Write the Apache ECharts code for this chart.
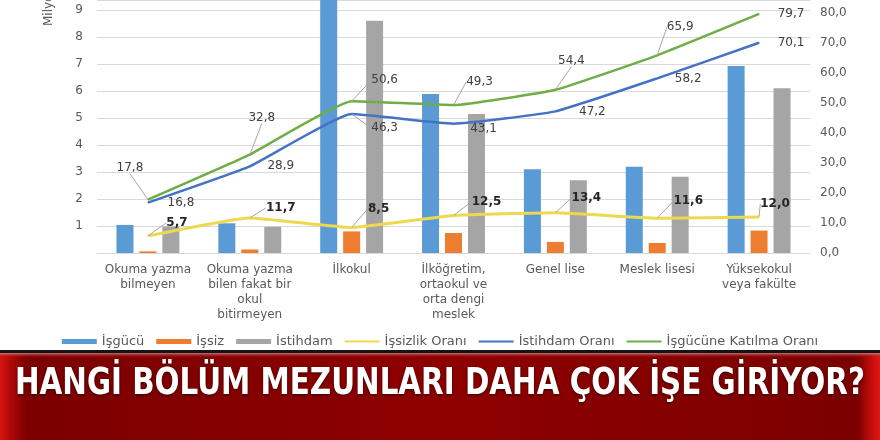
<!DOCTYPE html>
<html>
<head>
<meta charset="utf-8">
<title>Eğitim durumuna göre işgücü</title>
<script src="https://cdn.jsdelivr.net/npm/echarts@6/dist/echarts.min.js"></script>
<style>
  * { margin: 0; padding: 0; }
  html, body { width: 880px; height: 440px; background: #fff; overflow: hidden; }
  #chart { width: 880px; height: 440px; }
</style>
</head>
<body>
<div id="chart"></div>
<script>
// kategoriler (eğitim durumu)
var categories = [
  'Okuma yazma\nbilmeyen',
  'Okuma yazma\nbilen fakat bir\nokul\nbitirmeyen',
  'İlkokul',
  'İlköğretim,\nortaokul ve\norta dengi\nmeslek',
  'Genel lise',
  'Meslek lisesi',
  'Yüksekokul\nveya fakülte'
];
// milyon kişi (sol eksen)
var isgucu   = [1.04, 1.10, 9.40, 5.89, 3.10, 3.19, 6.93];
var issiz    = [0.06, 0.13, 0.80, 0.74, 0.41, 0.37, 0.83];
var istihdam = [0.98, 0.97, 8.60, 5.15, 2.69, 2.82, 6.10];
// oranlar % (sağ eksen)
var issizlikOrani = [5.7, 11.7, 8.5, 12.5, 13.4, 11.6, 12.0];
var istihdamOrani = [16.8, 28.9, 46.3, 43.1, 47.2, 58.2, 70.1];
var katilmaOrani  = [17.8, 32.8, 50.6, 49.3, 54.4, 65.9, 79.7];

var leftTicks = [1, 2, 3, 4, 5, 6, 7, 8, 9];
var rightTicks = [0, 10, 20, 30, 40, 50, 60, 70, 80];
var titleText = 'HANGİ BÖLÜM MEZUNLARI DAHA ÇOK İŞE GİRİYOR?';

// etiketlerin noktaya göre kaydırması [dx, dy]
var offKatilma  = [[-18,-32],[12,-37],[33,-21],[26,-23],[16,-29],[23,-28],[32,0]];
var offIstihdam = [[33,0],[31,0],[33,14],[30,5],[37,0],[31,0],[32,0]];
var offIssizlik = [[29,-13],[31,-10],[27,-19],[33,-14],[31,-15],[31,-17],[16,-13]];

function tr(v) { return Number(v).toFixed(1).replace('.', ','); }

function lineData(vals, offs) {
  return vals.map(function (v, i) {
    return { value: v, labelLine: { show: Math.abs(offs[i][1]) > 8 } };
  });
}

var txt = '#595959';
var font = 'DejaVu Sans';
// ince çizgi simgesi (lejant)
var lineIcon = 'path://M0,0L0.01,0M0,1.6H35V3.4H0ZM0,5L0.01,5';

// başlık genişliğini ölç
var ctx = document.createElement('canvas').getContext('2d');
ctx.font = 'bold 37px "DejaVu Sans Condensed"';
var titleScale = 850 / ctx.measureText(titleText).width;

var chart = echarts.init(document.getElementById('chart'));

function lineSeries(name, vals, offs, color, width, bold) {
  return {
    name: name,
    type: 'line',
    yAxisIndex: 1,
    data: lineData(vals, offs),
    smooth: 0.12,
    symbol: 'circle',
    symbolSize: 1,
    showSymbol: true,
    lineStyle: { color: color, width: width },
    itemStyle: { color: color },
    label: {
      show: true,
      position: 'inside',
      formatter: function (p) { return tr(p.value); },
      fontFamily: font,
      fontSize: 12,
      fontWeight: bold ? 'bold' : 'normal',
      color: bold ? '#262626' : '#404040'
    },
    labelLine: { show: true, lineStyle: { color: '#a6a6a6', width: 1 } },
    labelLayout: function (p) {
      return { dx: offs[p.dataIndex][0], dy: offs[p.dataIndex][1] };
    },
    z: 3
  };
}

chart.setOption({
  animation: false,
  backgroundColor: '#fff',
  grid: { left: 97, right: 70, top: 0, bottom: 187 },
  legend: {
    bottom: 87,
    left: 'center',
    itemWidth: 35,
    itemHeight: 5,
    itemGap: 12,
    textStyle: { color: txt, fontFamily: font, fontSize: 13 },
    data: [
      { name: 'İşgücü', icon: 'rect' },
      { name: 'İşsiz', icon: 'rect' },
      { name: 'İstihdam', icon: 'rect' },
      { name: 'İşsizlik Oranı', icon: lineIcon },
      { name: 'İstihdam Oranı', icon: lineIcon },
      { name: 'İşgücüne Katılma Oranı', icon: lineIcon }
    ]
  },
  xAxis: {
    type: 'category',
    data: categories,
    axisTick: { show: false },
    axisLine: { lineStyle: { color: '#d9d9d9' } },
    axisLabel: {
      interval: 0, margin: 9, color: txt, fontFamily: font, fontSize: 12, lineHeight: 15
    }
  },
  yAxis: [{
    type: 'value', min: 0, max: 253 / 27, interval: 1,
    axisLine: { show: false }, axisTick: { show: false },
    splitLine: { lineStyle: { color: '#d9d9d9' } },
    axisLabel: {
      margin: 14, color: txt, fontFamily: font, fontSize: 12,
      formatter: function (v) { return leftTicks.indexOf(v) >= 0 ? String(v) : ''; }
    }
  }, {
    type: 'value', min: 0, max: 253 / 3, interval: 10,
    axisLine: { show: false }, axisTick: { show: false },
    splitLine: { show: false },
    axisLabel: {
      margin: 10, color: txt, fontFamily: font, fontSize: 12,
      formatter: function (v) { return rightTicks.indexOf(v) >= 0 ? tr(v) : ''; }
    }
  }],
  series: [
    { name: 'İşgücü', type: 'bar', data: isgucu, barWidth: 17, barGap: '35%',
      itemStyle: { color: '#5b9bd5' } },
    { name: 'İşsiz', type: 'bar', data: issiz, barWidth: 17, barGap: '35%',
      itemStyle: { color: '#ed7d31' } },
    { name: 'İstihdam', type: 'bar', data: istihdam, barWidth: 17, barGap: '35%',
      itemStyle: { color: '#a5a5a5' } },
    lineSeries('İşsizlik Oranı', issizlikOrani, offIssizlik, '#ecd94e', 3, true),
    lineSeries('İstihdam Oranı', istihdamOrani, offIstihdam, '#4472c4', 2.5, false),
    lineSeries('İşgücüne Katılma Oranı', katilmaOrani, offKatilma, '#70ad47', 2.5, false)
  ],
  graphic: [
    {
      type: 'text', x: 49, y: 26, rotation: Math.PI / 2,
      style: { text: 'Milyon', fill: txt, font: '12px "DejaVu Sans"', align: 'left', verticalAlign: 'middle' }
    },
    { type: 'rect', shape: { x: 0, y: 350, width: 880, height: 3 }, style: { fill: '#141414' } },
    {
      type: 'rect', shape: { x: 0, y: 353, width: 880, height: 87 },
      style: {
        fill: new echarts.graphic.LinearGradient(0, 0, 1, 0, [
          { offset: 0, color: '#d81414' },
          { offset: 0.012, color: '#b00808' },
          { offset: 0.03, color: '#7c0000' },
          { offset: 0.5, color: '#8e0000' },
          { offset: 0.975, color: '#7c0000' },
          { offset: 0.99, color: '#c40c0c' },
          { offset: 1, color: '#e01818' }
        ])
      }
    },
    {
      type: 'rect', shape: { x: 0, y: 353, width: 880, height: 5 },
      style: {
        fill: new echarts.graphic.LinearGradient(0, 0, 0, 1, [
          { offset: 0, color: 'rgba(220,140,140,0.8)' },
          { offset: 1, color: 'rgba(142,0,0,0)' }
        ])
      }
    },
    {
      type: 'text', x: 440, y: 384, scaleX: titleScale,
      style: {
        text: titleText, x: 0, y: 0, align: 'center', verticalAlign: 'middle',
        font: 'bold 37px "DejaVu Sans Condensed", "Liberation Sans Narrow"',
        fill: '#ffffff',
        textShadowColor: 'rgba(0,0,0,0.6)', textShadowBlur: 3, textShadowOffsetY: 1
      }
    }
  ]
});
</script>
</body>
</html>
